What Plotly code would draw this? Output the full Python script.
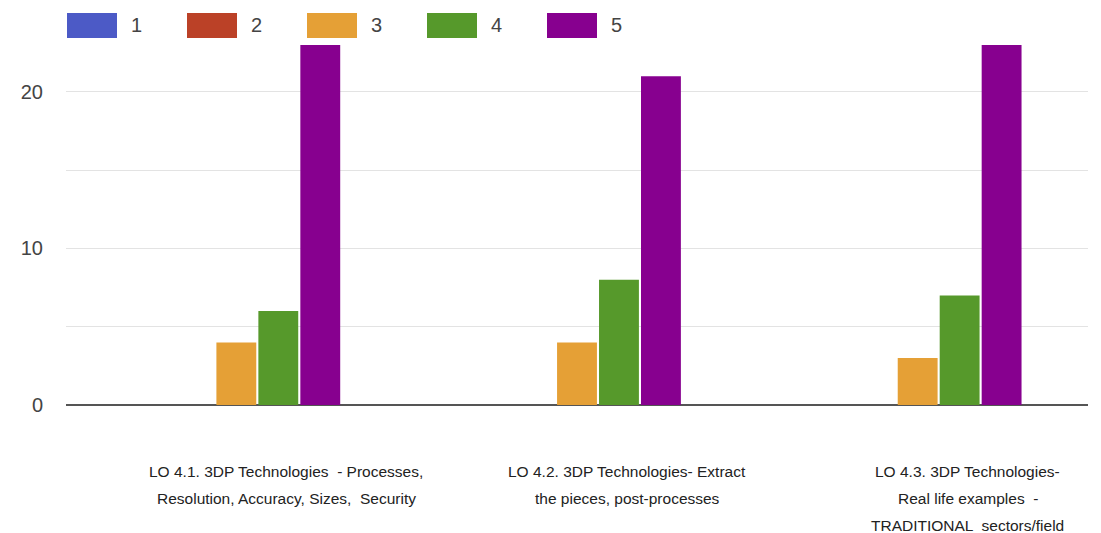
import plotly.graph_objects as go

# Survey answers (rating 1-5) per learning outcome
categories = ["LO 4.1", "LO 4.2", "LO 4.3"]
category_lines = [
    ["LO 4.1. 3DP Technologies  - Processes,", "Resolution, Accuracy, Sizes,  Security"],
    ["LO 4.2. 3DP Technologies- Extract", "the pieces, post-processes"],
    ["LO 4.3. 3DP Technologies-", "Real life examples  -", "TRADITIONAL  sectors/field"],
]
series_names = ["1", "2", "3", "4", "5"]
series_values = [
    [0, 0, 0],
    [0, 0, 0],
    [4, 4, 3],
    [6, 8, 7],
    [23, 21, 23],
]
series_colors = ["#4c5ac6", "#bb4127", "#e5a036", "#56992b", "#87008f"]
y_ticks = [0, 10, 20]

fig = go.Figure()
for name, vals, col in zip(series_names, series_values, series_colors):
    fig.add_trace(go.Bar(
        x=categories, y=vals, name=name,
        marker=dict(color=col, line=dict(width=0)),
        showlegend=False,
    ))

# Legend row drawn as swatches + labels across the top
for i, (name, col) in enumerate(zip(series_names, series_colors)):
    x0 = 67 + i * 120
    fig.add_shape(type="rect", xref="paper", yref="paper",
                  x0=(x0 - 66) / 1022, x1=(x0 + 50 - 66) / 1022,
                  y0=(405 - 13) / 360, y1=(405 - 38) / 360,
                  fillcolor=col, line=dict(width=0))
    fig.add_annotation(xref="paper", yref="paper",
                       x=(x0 + 62 - 66) / 1022, y=(405 - 25.5) / 360,
                       text=name, showarrow=False, xanchor="left", yanchor="middle",
                       font=dict(family="Liberation Sans, Arial", size=20, color="#444444"))

# Multi-line category captions under the axis
for cat, lines in zip(categories, category_lines):
    for j, line in enumerate(lines):
        fig.add_annotation(x=cat, xref="x", yref="paper", y=0,
                           text=line, showarrow=False,
                           xanchor="center", yanchor="middle",
                           xshift=50, yshift=-66 - j * 27,
                           font=dict(family="Liberation Sans, Arial", size=15.5, color="#222222"))

fig.update_layout(
    width=1101, height=533,
    margin=dict(l=66, r=13, t=45, b=128),
    paper_bgcolor="white", plot_bgcolor="white",
    barmode="group", bargap=0.384, bargroupgap=0.05,
    font=dict(family="Liberation Sans, Arial", color="#444444"),
)
fig.update_xaxes(showticklabels=False, showgrid=False, zeroline=False, showline=False)
fig.update_yaxes(range=[0, 23], tickvals=y_ticks, ticktext=[str(v) for v in y_ticks],
                 tickfont=dict(size=20, color="#444444"),
                 ticklabelstandoff=22,
                 showgrid=True, gridcolor="#e3e3e3", gridwidth=1,
                 minor=dict(tickvals=[5, 15], showgrid=True, gridcolor="#e3e3e3", gridwidth=1),
                 zeroline=True, zerolinecolor="#555555", zerolinewidth=2,
                 showline=False)

fig.write_html("out.html")
